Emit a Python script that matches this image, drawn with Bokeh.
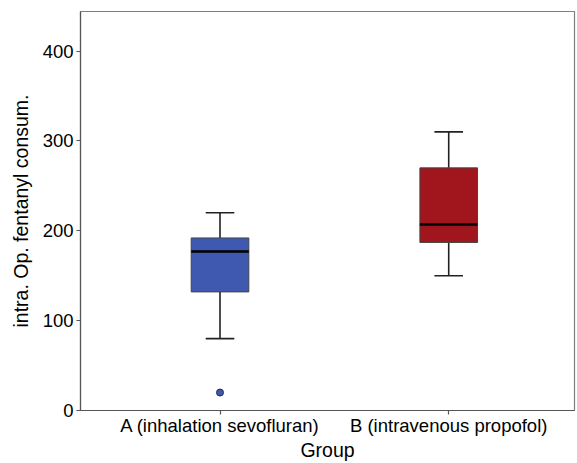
from bokeh.plotting import figure
from bokeh.models import Range1d, FixedTicker, ColumnDataSource
from bokeh.transform import dodge
from bokeh.embed import file_html
from bokeh.resources import INLINE

groups = ["A (inhalation sevofluran)", "B (intravenous propofol)"]
xpos = [1, 2]
q1 = [132, 187]
median = [177, 207]
q3 = [192, 270]
whisk_lo = [80, 150]
whisk_hi = [220, 310]
fills = ["#3f58b0", "#a0161c"]
outlier_x = [1]
outlier_y = [20]
outlier_color = ["#3f58b0"]
yticks = [0, 100, 200, 300, 400]

FONT = "Liberation Sans"

p = figure(width=577, height=463, output_backend="svg", toolbar_location=None,
           x_range=Range1d(0.39, 2.55), y_range=Range1d(0, 444),
           min_border_left=80, min_border_right=3, min_border_top=11, min_border_bottom=52)
p.background_fill_color = "white"
p.border_fill_color = "white"
p.outline_line_color = "#7f7f7f"
p.outline_line_width = 1.2
p.grid.visible = False

src = ColumnDataSource(dict(x=xpos, q1=q1, med=median, q3=q3, lo=whisk_lo, hi=whisk_hi, fill=fills))

bw = 0.252
cw = 0.125
# whiskers
p.segment(x0="x", y0="q3", x1="x", y1="hi", source=src, line_color="#222222", line_width=1.6)
p.segment(x0="x", y0="lo", x1="x", y1="q1", source=src, line_color="#222222", line_width=1.6)
p.segment(x0=dodge("x", -cw / 2), y0="hi", x1=dodge("x", cw / 2), y1="hi", source=src,
          line_color="#222222", line_width=1.6)
p.segment(x0=dodge("x", -cw / 2), y0="lo", x1=dodge("x", cw / 2), y1="lo", source=src,
          line_color="#222222", line_width=1.6)
# boxes
p.vbar(x="x", width=bw, bottom="q1", top="q3", source=src, fill_color="fill",
       line_color="#444444", line_width=1)
# median
p.segment(x0=dodge("x", -bw / 2), y0="med", x1=dodge("x", bw / 2), y1="med", source=src,
          line_color="black", line_width=2.5)
# outlier
p.scatter(x=outlier_x, y=outlier_y, size=7, fill_color=outlier_color, line_color="#1a2a5a",
          line_width=1)

p.xaxis.ticker = FixedTicker(ticks=xpos)
p.xaxis.major_label_overrides = {x: g for x, g in zip(xpos, groups)}
p.yaxis.ticker = FixedTicker(ticks=yticks)

for ax in (p.xaxis[0], p.yaxis[0]):
    ax.axis_line_color = "#555555"
    ax.axis_line_width = 1.2
    ax.major_tick_line_color = "#555555"
    ax.major_tick_line_width = 1.2
    ax.major_tick_out = 4
    ax.major_tick_in = 0
    ax.minor_tick_line_color = None
    ax.major_label_text_font = FONT
    ax.major_label_text_font_size = "18.5px"
    ax.major_label_text_color = "black"
    ax.axis_label_text_font = FONT
    ax.axis_label_text_font_size = "19.5px"
    ax.axis_label_text_font_style = "normal"
    ax.axis_label_text_color = "black"

p.xaxis.axis_label = "Group"
p.yaxis.axis_label = "intra. Op. fentanyl consum."
p.xaxis.major_label_standoff = 0
p.xaxis.axis_label_standoff = 0
p.yaxis.major_label_standoff = 3
p.yaxis.axis_label_standoff = 8

open("out.html", "w").write(file_html(p, INLINE))
